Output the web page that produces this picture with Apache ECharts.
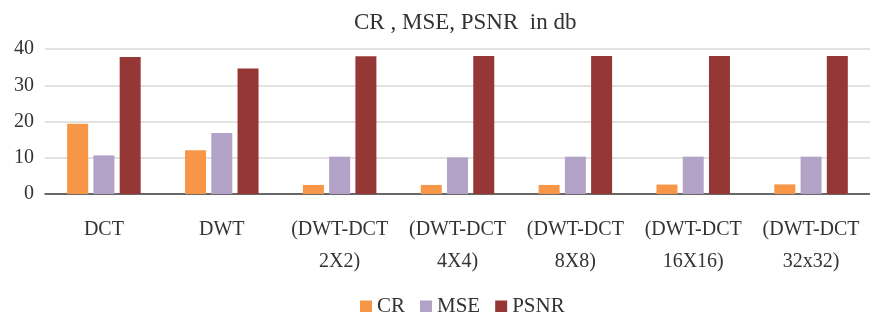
<!DOCTYPE html>
<html>
<head>
<meta charset="utf-8">
<script src="https://cdn.jsdelivr.net/npm/echarts@6/dist/echarts.min.js"></script>
<style>
  html, body { margin: 0; padding: 0; background: #fff; }
</style>
</head>
<body>
<div id="main" style="width: 870px; height: 312px;"></div>

<script type="text/javascript">

    var categories = ["DCT", "DWT", "(DWT-DCT\n2X2)", "(DWT-DCT\n4X4)", "(DWT-DCT\n8X8)", "(DWT-DCT\n16X16)", "(DWT-DCT\n32x32)"];
    var crData = [19.4, 12.1, 2.5, 2.5, 2.5, 2.6, 2.65];
    var mseData = [10.65, 16.8, 10.3, 10.1, 10.3, 10.3, 10.3];
    var psnrData = [37.8, 34.6, 38.0, 38.1, 38.1, 38.1, 38.1];
    var yTicks = [0, 10, 20, 30, 40];

    var ec = echarts.init(document.getElementById('main'));

    var font = "'Liberation Serif', 'DejaVu Serif', serif";

    var option = {
        animation: false,
        title: {
            text: "CR , MSE, PSNR  in db",
            left: 349,
            top: 6,
            textStyle: { fontFamily: font, fontSize: 23, fontWeight: 'normal', color: '#333333' }
        },
        legend: {
            data: ["CR", "MSE", "PSNR"],
            top: 291,
            left: 355,
            icon: 'rect',
            itemWidth: 12,
            itemHeight: 12,
            itemGap: 15,
            textStyle: { fontFamily: font, fontSize: 21, color: '#333333' }
        },
        grid: { left: 45, right: 0, top: 49, bottom: 118 },
        xAxis: {
            type: 'category',
            data: categories,
            axisTick: { show: false },
            axisLine: { lineStyle: { color: '#404040', width: 1.5 } },
            axisLabel: {
                interval: 0,
                margin: 20,
                fontFamily: font,
                fontSize: 20,
                lineHeight: 32,
                color: '#333333'
            }
        },
        yAxis: {
            type: 'value',
            min: yTicks[0],
            max: yTicks[yTicks.length - 1],
            interval: 10,
            axisLine: { show: false },
            axisTick: { show: false },
            splitLine: { lineStyle: { color: '#d9d9d9', width: 1.5 } },
            axisLabel: { fontFamily: font, fontSize: 20, color: '#333333', margin: 11 }
        },
        series: [
            { name: "CR", type: 'bar', data: crData, barWidth: 21, barGap: '25%' },
            { name: "MSE", type: 'bar', data: mseData, barWidth: 21, barGap: '25%' },
            { name: "PSNR", type: 'bar', data: psnrData, barWidth: 21, barGap: '25%' }
        ],
        color: ['#F79646', '#B3A2C7', '#953735']
    };

    ec.setOption(option);
</script>
</body>
</html>
